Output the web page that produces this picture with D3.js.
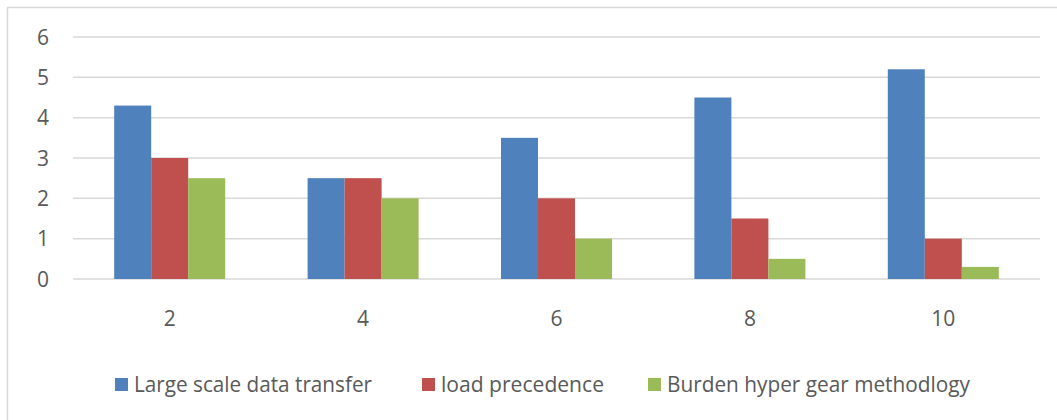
<!DOCTYPE html>
<html>
<head>
<meta charset="utf-8">
<script src="https://cdn.jsdelivr.net/npm/d3@7"></script>
<style>
  body { margin: 0; background: #fff; }
  svg text { font-family: "Open Sans", "Liberation Sans", sans-serif; fill: #595959; }
</style>
</head>
<body>
<div id="chart"></div>
<script>
var categories = ["2", "4", "6", "8", "10"]
var seriesNames = ["Large scale data transfer", "load precedence", "Burden hyper gear methodlogy"]
var largeScale = [4.3, 2.5, 3.5, 4.5, 5.2]
var loadPrecedence = [3, 2.5, 2, 1.5, 1]
var burdenHyper = [2.5, 2, 1, 0.5, 0.3]
var yTicks = [0, 1, 2, 3, 4, 5, 6]
var colors = ["#4F81BD", "#C0504D", "#9BBB59"]

var allSeries = [largeScale, loadPrecedence, burdenHyper]

var width = 1057, height = 420

var svg = d3.select("#chart")
  .append("svg")
    .attr("width", width)
    .attr("height", height)

// outer chart border (right/bottom are cut off in the picture)
svg.append("rect")
  .attr("x", 7.5).attr("y", 7.5)
  .attr("width", 1080).attr("height", 440)
  .attr("fill", "none")
  .attr("stroke", "#D9D9D9")
  .attr("stroke-width", 1.5)

var plotLeft = 73, plotRight = 1040, plotTop = 37, plotBottom = 279

var y = d3.scaleLinear()
  .domain([0, 6])
  .range([plotBottom, plotTop])

var x0 = d3.scaleBand()
  .domain(categories)
  .range([plotLeft, plotRight])
  .paddingInner(0.426)
  .paddingOuter(0.213)

var x1 = d3.scaleBand()
  .domain([0, 1, 2])
  .range([0, x0.bandwidth()])

// gridlines
svg.append("g")
  .selectAll("line")
  .data(yTicks)
  .enter()
  .append("line")
    .attr("x1", plotLeft)
    .attr("x2", plotRight)
    .attr("y1", d => y(d))
    .attr("y2", d => y(d))
    .attr("stroke", "#D9D9D9")
    .attr("stroke-width", 1.5)

// y labels
svg.append("g")
  .selectAll("text")
  .data(yTicks)
  .enter()
  .append("text")
    .attr("x", 49)
    .attr("y", d => y(d))
    .attr("dy", "0.36em")
    .attr("text-anchor", "end")
    .style("font-size", "21px")
    .text(d => d)

// bars
var groups = svg.append("g")
  .selectAll("g")
  .data(categories)
  .enter()
  .append("g")
    .attr("transform", d => "translate(" + x0(d) + ",0)")

groups.selectAll("rect")
  .data((d, i) => allSeries.map((s, j) => ({ s: j, v: s[i] })))
  .enter()
  .append("rect")
    .attr("x", d => x1(d.s))
    .attr("y", d => y(d.v))
    .attr("width", x1.bandwidth())
    .attr("height", d => y(0) - y(d.v))
    .attr("fill", d => colors[d.s])

// x labels
svg.append("g")
  .selectAll("text")
  .data(categories)
  .enter()
  .append("text")
    .attr("x", d => x0(d) + x0.bandwidth() / 2)
    .attr("y", 326)
    .attr("text-anchor", "middle")
    .style("font-size", "21px")
    .text(d => d)

// legend
var legendX = [115, 422, 648]
var legendW = [238, 163, 303]
var legend = svg.append("g")
  .selectAll("g")
  .data(seriesNames)
  .enter()
  .append("g")
    .attr("transform", (d, i) => "translate(" + legendX[i] + ",0)")

legend.append("rect")
  .attr("x", 0).attr("y", 378)
  .attr("width", 13).attr("height", 13)
  .attr("fill", (d, i) => colors[i])

legend.append("text")
  .attr("x", 19)
  .attr("y", 392)
  .style("font-size", "21px")
  .attr("textLength", (d, i) => legendW[i])
  .attr("lengthAdjust", "spacingAndGlyphs")
  .text(d => d)
</script>
</body>
</html>
